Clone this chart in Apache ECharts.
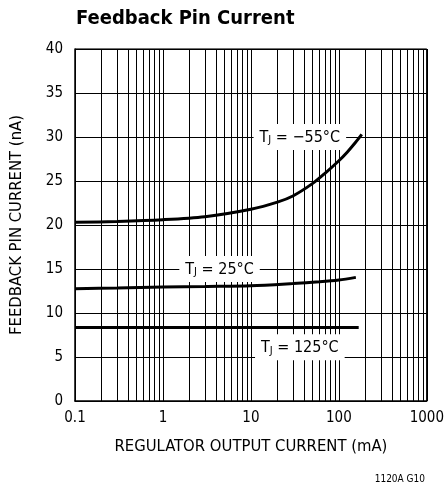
<!DOCTYPE html>
<html>
<head>
<meta charset="utf-8">
<script src="https://cdn.jsdelivr.net/npm/echarts@6/dist/echarts.min.js"></script>
<style>
  html, body { margin: 0; padding: 0; background: #fff; }
  #chart { width: 447px; height: 487px; }
</style>
</head>
<body>
<div id="chart"></div>
<script>
const FONT = '"Liberation Sans Narrow", "DejaVu Sans Condensed", "Liberation Sans", sans-serif'

// regulator output current (mA) and feedback pin current (nA)
const curM55 = [0.1, 0.3, 1, 3, 10, 20, 30, 50, 70, 100, 125, 155, 182]
const valM55 = [20.3, 20.4, 20.6, 20.95, 21.8, 22.6, 23.3, 24.7, 25.9, 27.3, 28.3, 29.4, 30.3]
const cur25 = [0.1, 0.3, 1, 3, 10, 30, 60, 100, 156]
const val25 = [12.76, 12.85, 12.95, 13.02, 13.1, 13.35, 13.55, 13.75, 14.05]
const cur125 = [0.1, 168]
const val125 = [8.35, 8.35]

const xTicks = [0.1, 1, 10, 100, 1000]
const minorGrid = [0.2, 0.3, 0.4, 0.5, 0.6, 0.7, 0.8, 0.9,
  2, 3, 4, 5, 6, 7, 8, 9, 20, 30, 40, 50, 60, 70, 80, 90,
  200, 300, 400, 500, 600, 700, 800, 900]

// curve labels: [x (mA), y (nA)] and text
const labelPos = [[36, 30], [4.4, 15], [36, 6.1]]
const labelTemp = ['\u221255\u00b0C', '25\u00b0C', '125\u00b0C']

const chart = echarts.init(document.getElementById('chart'))

const pairs = (xs, ys) => xs.map((x, i) => [x, ys[i]])
const curveStyle = { color: '#000', width: 3 }

const option = {
  animation: false,
  title: {
    text: 'Feedback Pin Current',
    left: 76, top: 9, padding: 0,
    textStyle: { fontFamily: FONT, fontWeight: 'bold', fontSize: 20, color: '#000' }
  },
  graphic: [{
    type: 'text', right: 22, bottom: 3,
    style: { text: '1120A G10', fontFamily: FONT, fontSize: 10, fill: '#000' }
  }],
  grid: { left: 75, right: 20, top: 49, bottom: 86 },
  xAxis: {
    type: 'log', logBase: 10, min: 0.1, max: 1000,
    name: 'REGULATOR OUTPUT CURRENT (mA)',
    nameLocation: 'middle', nameGap: 37,
    nameTextStyle: { fontFamily: FONT, fontSize: 16.5, color: '#000' },
    axisLine: { lineStyle: { color: '#000', width: 1.5 } },
    axisTick: { show: false },
    axisLabel: {
      fontFamily: FONT, fontSize: 15, color: '#000', margin: 10,
      formatter: v => String(xTicks.find(t => Math.abs(t - v) / t < 1e-6) ?? v)
    },
    splitLine: { show: true, lineStyle: { color: '#000', width: 1 } }
  },
  yAxis: {
    type: 'value', min: 0, max: 40, interval: 5,
    name: 'FEEDBACK PIN CURRENT (nA)',
    nameLocation: 'middle', nameGap: 50, nameRotate: 90,
    nameTextStyle: { fontFamily: FONT, fontSize: 16.5, color: '#000' },
    axisLine: { show: true, lineStyle: { color: '#000', width: 1.5 } },
    axisTick: { show: false },
    axisLabel: { fontFamily: FONT, fontSize: 15, color: '#000', margin: 12 },
    splitLine: { show: true, lineStyle: { color: '#000', width: 1 } }
  },
  series: [
    {
      type: 'line', data: [], silent: true,
      markLine: {
        silent: true, symbol: 'none', animation: false,
        label: { show: false },
        lineStyle: { color: '#000', width: 1, type: 'solid' },
        data: minorGrid.map(v => ({ xAxis: v }))
      }
    },
    {
      type: 'line', data: [[1000, 0], [1000, 40]], symbol: 'none', silent: true,
      lineStyle: { color: '#000', width: 1.5 }
    },
    {
      type: 'line', data: [[0.1, 40], [1000, 40]], symbol: 'none', silent: true,
      lineStyle: { color: '#000', width: 1.5 }
    },
    { type: 'line', smooth: 0.3, symbol: 'none', lineStyle: curveStyle, data: pairs(curM55, valM55) },
    { type: 'line', smooth: 0.3, symbol: 'none', lineStyle: curveStyle, data: pairs(cur25, val25) },
    { type: 'line', symbol: 'none', lineStyle: curveStyle, data: pairs(cur125, val125) },
    {
      type: 'scatter', symbolSize: 0, silent: true, z: 10,
      itemStyle: { color: '#fff', opacity: 1 },
      data: labelPos.map((p, i) => ({ value: p, t: labelTemp[i] })),
      label: {
        show: true, position: 'inside',
        backgroundColor: '#fff', padding: [5, 6, 4, 6],
        fontFamily: FONT, fontSize: 16, color: '#000',
        textBorderWidth: 0,
        formatter: p => '{a|T}{s|J}{a| = ' + p.data.t + '}',
        rich: {
          a: { fontFamily: FONT, fontSize: 16, color: '#000', textBorderWidth: 0 },
          s: { fontFamily: FONT, fontSize: 11, color: '#000', textBorderWidth: 0, verticalAlign: 'bottom', padding: [6, 0, 0, 0] }
        }
      }
    }
  ]
}

chart.setOption(option)
</script>
</body>
</html>
